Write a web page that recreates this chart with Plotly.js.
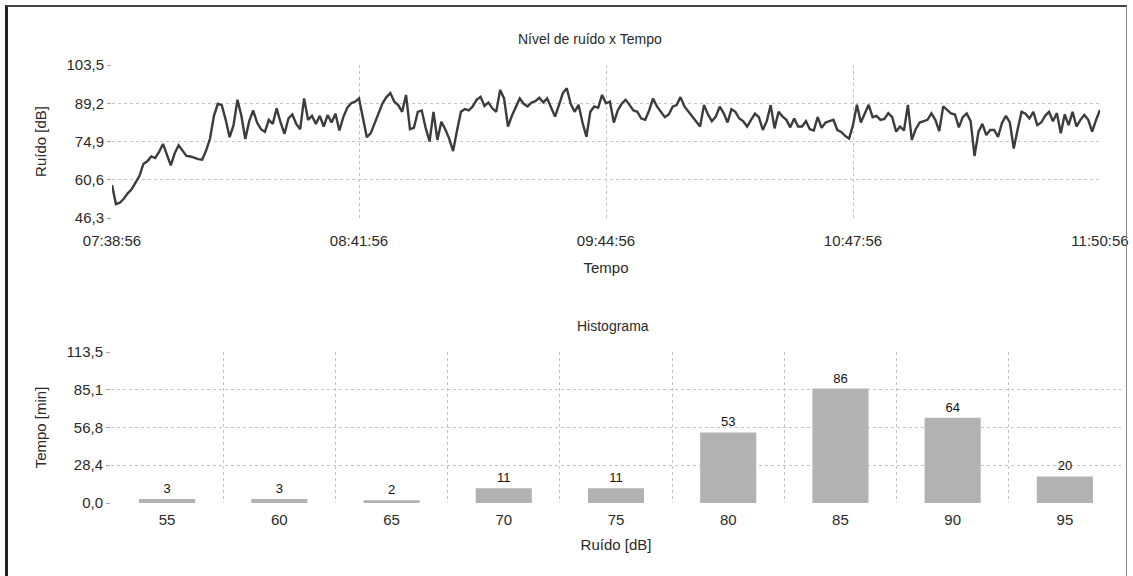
<!DOCTYPE html>
<html>
<head>
<meta charset="utf-8">
<script src="https://cdn.plot.ly/plotly-3.0.1.min.js"></script>
<style>
  html, body { margin: 0; padding: 0; background: #fff; }
  #chart { width: 1133px; height: 576px; position: relative; }
  #frame { position: absolute; left: 5px; top: 5px; width: 1122px; height: 571px;
           border-left: 3px solid #222; border-top: 2px solid #444; border-right: 1px solid #888;
           pointer-events: none; box-sizing: border-box; }
</style>
</head>
<body>
<div id="chart"></div>
<div id="frame"></div>
<script>
// ---- data ----
const startTime = "07:38:56";           // first sample, one sample per minute
const noiseDb = [
  58.6, 51.5, 52.0, 53.5, 55.5, 57.0, 59.5, 62.0, 66.5, 67.5,
  69.3, 68.7, 71.0, 74.0, 70.0, 66.0, 70.5, 73.5, 71.5, 69.5,
  69.3, 68.8, 68.3, 68.1, 71.5, 76.0, 84.5, 89.0, 88.5, 83.0,
  76.5, 81.0, 90.5, 84.5, 75.8, 82.5, 86.5, 82.0, 79.5, 78.5,
  83.0, 81.5, 87.3, 82.0, 77.8, 83.5, 85.0, 81.5, 79.5, 91.0,
  83.0, 84.5, 81.5, 84.5, 80.5, 84.8, 82.0, 85.3, 79.0, 84.0,
  87.5, 89.2, 89.8, 91.0, 84.0, 76.5, 78.0, 81.5, 85.0, 89.2,
  91.5, 93.0, 89.8, 88.5, 86.0, 92.3, 79.5, 80.0, 86.0, 86.5,
  80.0, 74.9, 86.0, 75.5, 82.3, 79.5, 76.0, 71.3, 79.0, 86.0,
  87.0, 86.5, 88.0, 90.5, 91.6, 88.2, 89.5, 87.3, 86.0, 94.2,
  91.0, 80.5, 84.5, 88.0, 91.0, 89.0, 88.0, 89.5, 90.0, 91.3,
  89.5, 91.0, 87.5, 84.2, 88.5, 93.0, 94.8, 89.0, 86.0, 88.6,
  82.0, 76.7, 86.0, 88.0, 87.5, 92.3, 89.2, 89.8, 82.0, 86.5,
  89.0, 90.5, 88.6, 86.5, 86.0, 83.5, 83.0, 86.5, 91.0, 88.0,
  86.0, 84.0, 85.0, 87.9, 88.5, 91.5, 88.0, 86.2, 84.5, 82.5,
  80.5, 88.6, 85.0, 82.5, 84.2, 87.9, 85.5, 82.0, 87.0, 86.0,
  83.5, 82.5, 80.5, 83.0, 85.3, 84.0, 79.2, 82.5, 88.5, 79.8,
  86.0, 84.3, 83.0, 80.2, 83.5, 80.5, 80.5, 82.5, 79.5, 79.0,
  84.0, 80.0, 82.0, 82.5, 83.0, 79.2, 78.5, 77.0, 76.0, 81.0,
  88.6, 82.0, 85.0, 88.6, 84.0, 84.5, 83.0, 83.3, 85.5, 84.0,
  78.6, 80.5, 79.0, 88.6, 75.5, 79.5, 82.0, 82.5, 83.0, 85.4,
  83.0, 78.8, 88.0, 86.7, 85.4, 85.0, 80.2, 84.0, 85.4, 82.5,
  69.5, 78.5, 81.5, 77.3, 79.2, 79.2, 76.6, 81.8, 84.5, 82.0,
  72.3, 79.5, 86.0, 85.3, 83.5, 86.0, 81.0, 82.0, 84.5, 86.0,
  82.5, 85.5, 78.0, 85.0, 81.0, 86.0, 80.5, 83.0, 84.8, 83.0,
  78.6, 83.0, 86.7
];
const timeTicks = ["07:38:56", "08:41:56", "09:44:56", "10:47:56", "11:50:56"];
const noiseTickVals = [46.3, 60.6, 74.9, 89.2, 103.5];
const noiseTickText = ["46,3", "60,6", "74,9", "89,2", "103,5"];

const histBins = ["55", "60", "65", "70", "75", "80", "85", "90", "95"];
const histMinutes = [3, 3, 2, 11, 11, 53, 86, 64, 20];
const histTickVals = [0, 28.4, 56.8, 85.1, 113.5];
const histTickText = ["0,0", "28,4", "56,8", "85,1", "113,5"];

// ---- build time axis from start time, one sample per minute ----
function toStamp(ms) {
  const d = new Date(ms);
  const p = n => String(n).padStart(2, "0");
  return "2000-01-01 " + p(d.getUTCHours()) + ":" + p(d.getUTCMinutes()) + ":" + p(d.getUTCSeconds());
}
const [h0, m0, s0] = startTime.split(":").map(Number);
const t0 = Date.UTC(2000, 0, 1, h0, m0, s0);
const times = noiseDb.map((_, i) => toStamp(t0 + i * 60000));
const tickStamps = timeTicks.map(s => "2000-01-01 " + s);

const W = 1133, H = 576;
const px = v => v / W;
const py = v => 1 - v / H;

const FONT = "Liberation Sans, Arial, sans-serif";
const TXT = "#2a2a2a";
const gridStyle = { gridcolor: "#c4c4c4", griddash: "dot", gridwidth: 1 };
const tickFont = { family: FONT, size: 15, color: TXT };
const titleFont = { family: FONT, size: 15, color: TXT };

const traces = [
  {
    type: "scatter", mode: "lines",
    x: times, y: noiseDb,
    xaxis: "x", yaxis: "y",
    line: { color: "#3c3c3c", width: 2.4 },
    hoverinfo: "x+y"
  },
  {
    type: "bar",
    x: histBins, y: histMinutes,
    xaxis: "x2", yaxis: "y2",
    marker: { color: "#b2b2b2", line: { width: 0 } },
    text: histMinutes.map(String), textposition: "outside",
    textfont: { family: FONT, size: 13, color: "#111" },
    cliponaxis: false
  }
];

const layout = {
  width: W, height: H,
  margin: { l: 0, r: 0, t: 0, b: 0 },
  paper_bgcolor: "#ffffff", plot_bgcolor: "#ffffff",
  showlegend: false,
  font: { family: FONT, size: 15, color: TXT },
  bargap: 0.5,
  xaxis: Object.assign({
    domain: [px(112), px(1100)],
    anchor: "y",
    type: "date",
    range: [tickStamps[0], tickStamps[tickStamps.length - 1]],
    tickvals: tickStamps, ticktext: timeTicks,
    showgrid: true, zeroline: false, showline: false,
    ticks: "", tickfont: tickFont, ticklabelstandoff: 12,
    title: { text: "Tempo", font: titleFont, standoff: 14 },
    automargin: false
  }, gridStyle),
  yaxis: Object.assign({
    domain: [py(218), py(65)],
    anchor: "x",
    range: [46.3, 103.5],
    tickvals: noiseTickVals, ticktext: noiseTickText,
    showgrid: true, zeroline: false, showline: false,
    ticks: "outside", ticklen: 4, tickcolor: "#aaa",
    tickfont: tickFont,
    title: { text: "Ruído [dB]", font: titleFont, standoff: 16 },
    automargin: false
  }, gridStyle),
  xaxis2: Object.assign({
    domain: [px(111), px(1121)],
    anchor: "y2",
    type: "category",
    range: [-0.5, 8.5],
    tickson: "boundaries",
    showgrid: true, zeroline: false, showline: false,
    ticks: "", tickfont: tickFont, ticklabelstandoff: 6,
    title: { text: "Ruído [dB]", font: titleFont, standoff: 12 },
    automargin: false
  }, gridStyle),
  yaxis2: Object.assign({
    domain: [py(503), py(352)],
    anchor: "x2",
    range: [0, 113.5],
    tickvals: histTickVals, ticktext: histTickText,
    showgrid: true, zeroline: false, showline: false,
    ticks: "outside", ticklen: 4, tickcolor: "#aaa",
    tickfont: tickFont,
    title: { text: "Tempo [min]", font: titleFont, standoff: 16 },
    automargin: false
  }, gridStyle),
  annotations: [
    { text: "Nível de ruído x Tempo", xref: "paper", yref: "paper",
      x: px(590), y: py(39), xanchor: "center", yanchor: "middle",
      showarrow: false, font: { family: FONT, size: 14, color: TXT } },
    { text: "Histograma", xref: "paper", yref: "paper",
      x: px(613), y: py(326), xanchor: "center", yanchor: "middle",
      showarrow: false, font: { family: FONT, size: 14, color: TXT } }
  ]
};

Plotly.newPlot("chart", traces, layout, { displayModeBar: false, staticPlot: true });
</script>
</body>
</html>
